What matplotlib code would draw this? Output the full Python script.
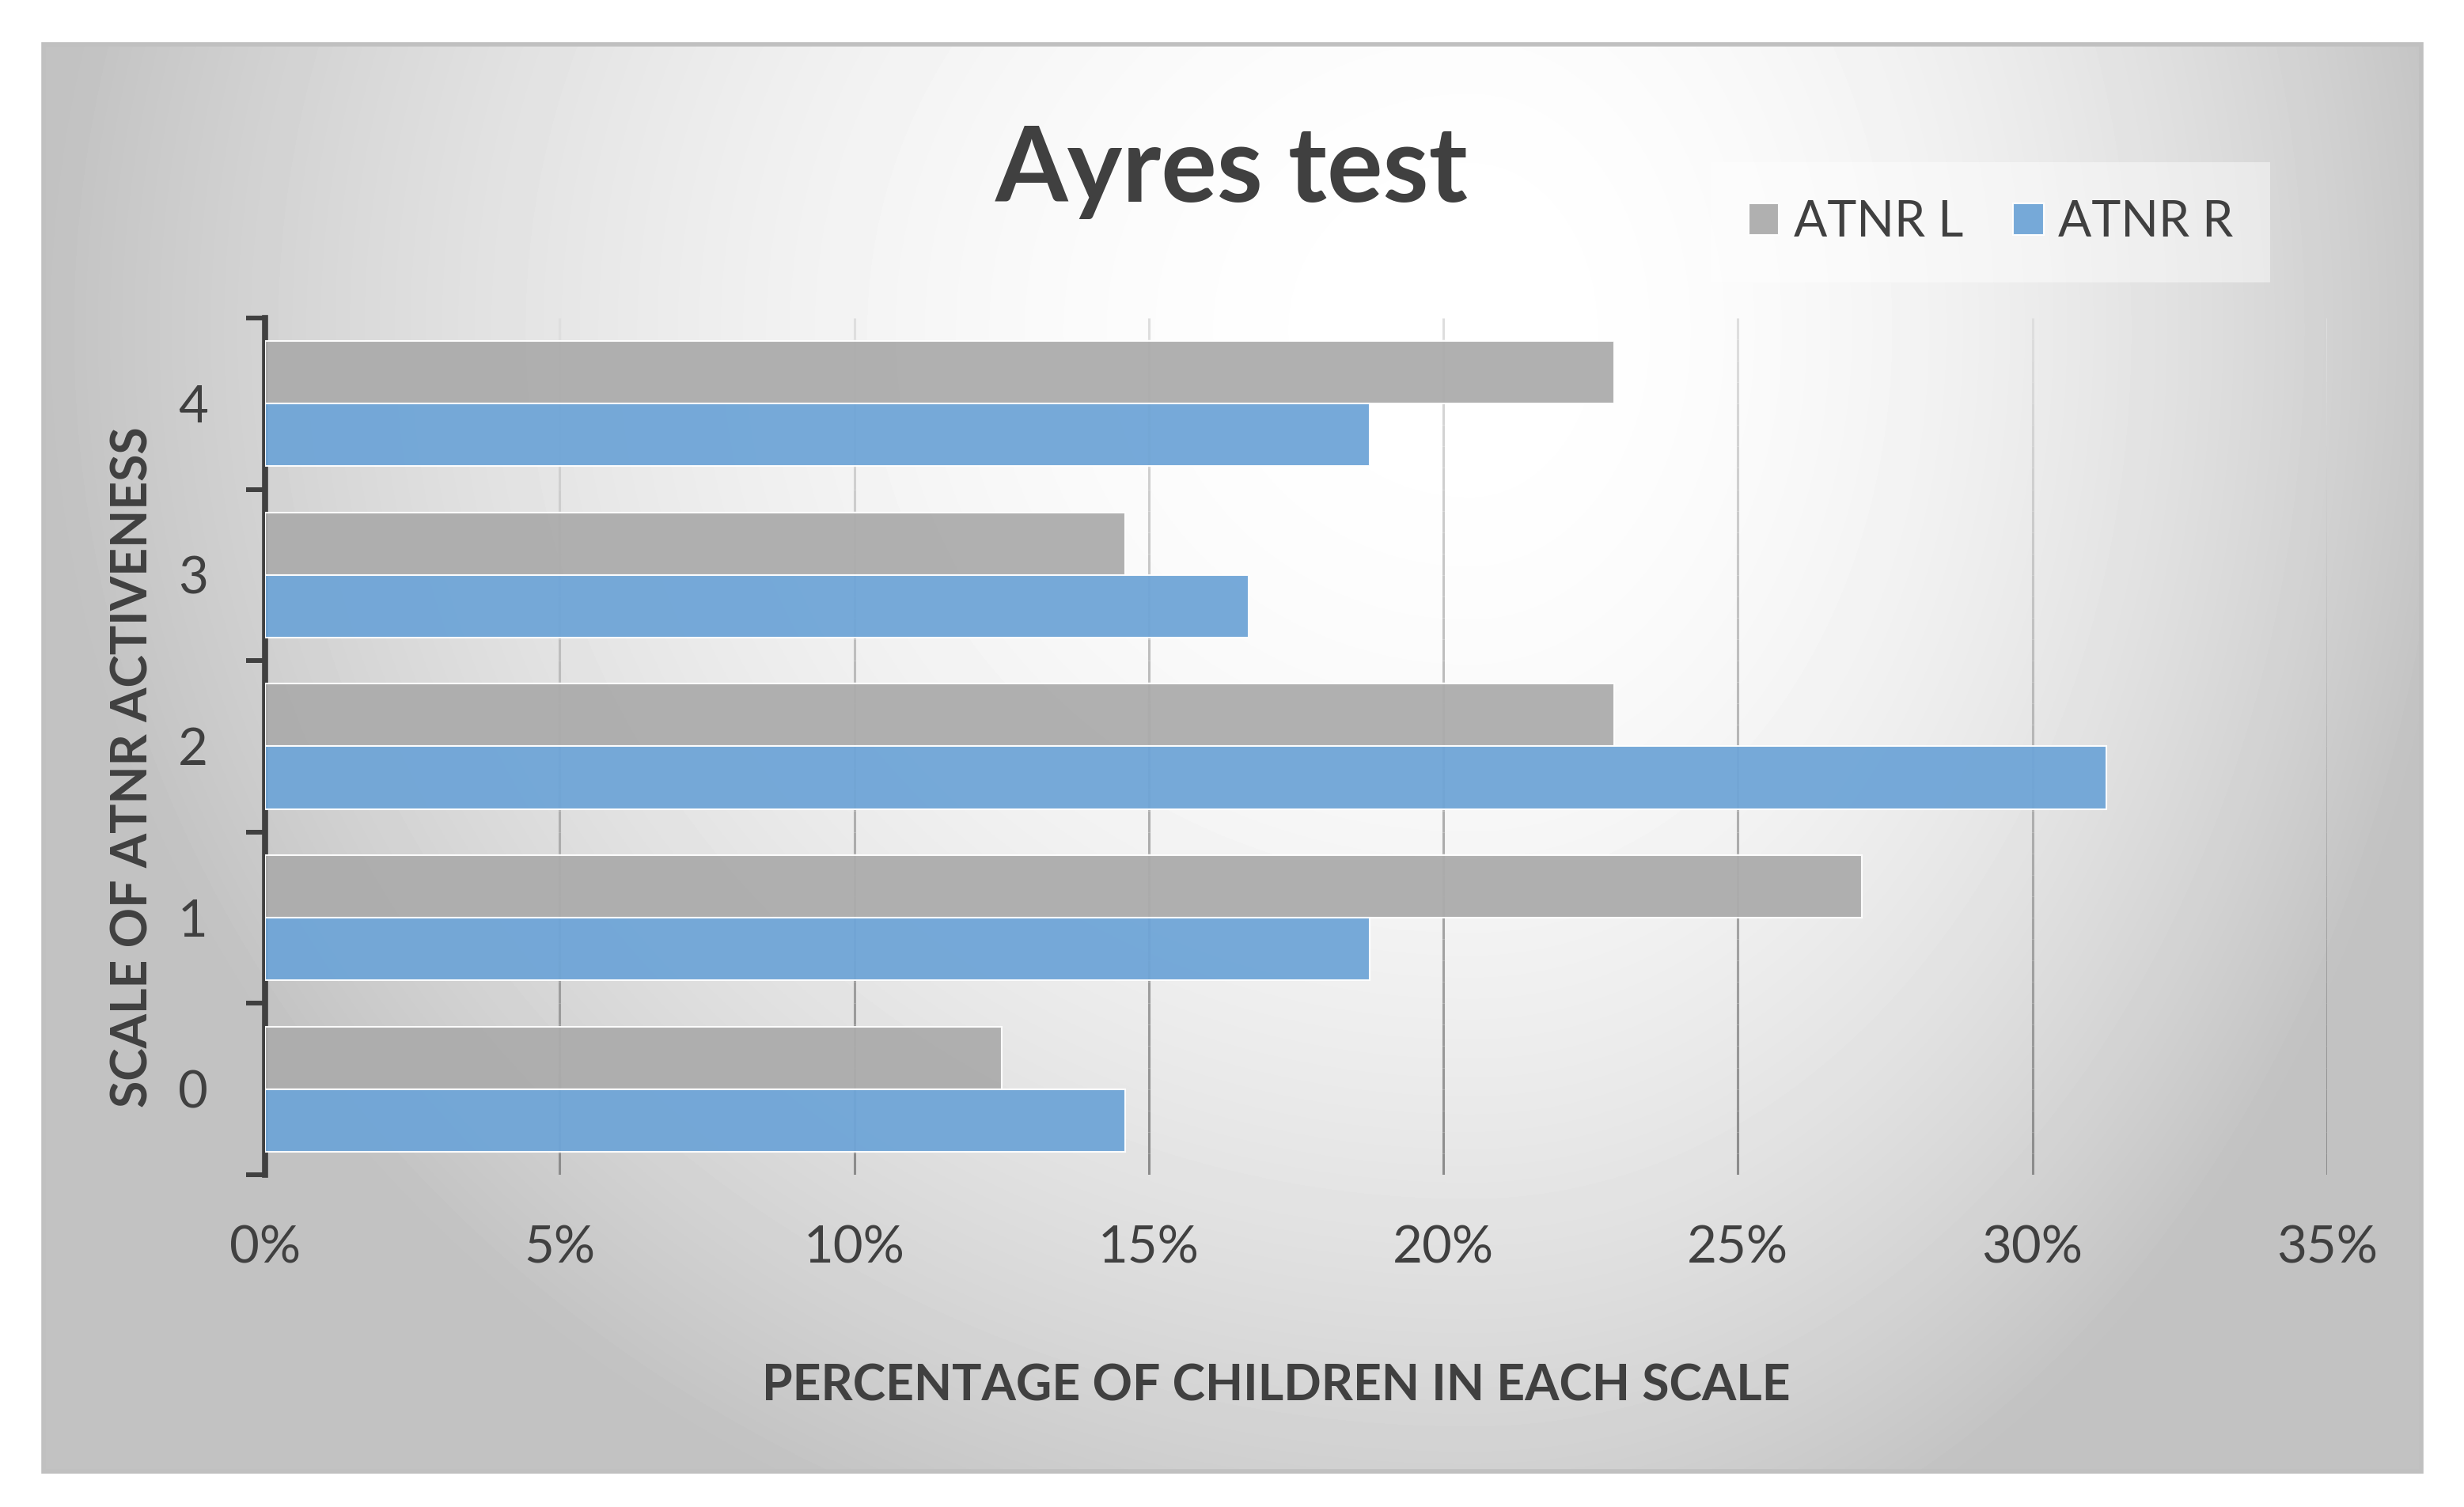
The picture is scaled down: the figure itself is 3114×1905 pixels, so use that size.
import numpy as np
import matplotlib
matplotlib.use("Agg")
import matplotlib.pyplot as plt
from matplotlib.collections import LineCollection
from matplotlib.patches import Rectangle
from matplotlib.ticker import FixedLocator, PercentFormatter

# Data (percentage of children per scale)
scales = [0, 1, 2, 3, 4]
atnr_l = [12.5, 27.1, 22.9, 14.6, 22.9]
atnr_r = [14.6, 18.75, 31.25, 16.7, 18.75]
series_names = ["ATNR L", "ATNR R"]
x_ticks = [0, 5, 10, 15, 20, 25, 30, 35]

TXT = "#404040"
GRAY = "#acacac"
BLUE = "#6fa5d7"
plt.rcParams["font.family"] = ["Lato", "DejaVu Sans"]

fig = plt.figure(figsize=(31.14, 19.05), dpi=100)

# Background panel with radial grey gradient
bg = fig.add_axes([0, 0, 1, 1], zorder=0)
bg.set_xlim(0, 1)
bg.set_ylim(0, 1)
bg.axis("off")
fl, fr, fb, ft = 0.0177, 0.9827, 0.0236, 0.9706
gx, gy = np.meshgrid(np.linspace(0, 1, 600), np.linspace(0, 1, 400))
cx, cy = 0.6, 0.2
dx = np.where(gx < cx, (gx - cx) / 0.6, (gx - cx) / 0.42)
dy = (gy - cy) / 0.92
r = np.clip(np.sqrt(dx ** 2 + dy ** 2), 0, 1.0)
shade = 1 - 0.24 * r ** 2
bg.imshow(shade, cmap="gray", vmin=0, vmax=1, extent=(fl, fr, fb, ft),
          origin="upper", aspect="auto", interpolation="bilinear")
bg.add_patch(Rectangle((fl, fb), fr - fl, ft - fb, fill=False,
                       edgecolor="#c0c0c0", linewidth=4))

# Main axes
ax = fig.add_axes([0.1076, 0.2205, 0.8368, 0.5685], zorder=1)
ax.patch.set_alpha(0)

h = 0.365
y = np.array(scales, dtype=float)
ax.barh(y + h / 2, atnr_l, height=h, color=GRAY, alpha=0.95,
        edgecolor=(1, 1, 1, 0.7), linewidth=1.5, label=series_names[0], zorder=3)
ax.barh(y - h / 2, atnr_r, height=h, color=BLUE, alpha=0.95,
        edgecolor=(1, 1, 1, 0.7), linewidth=1.5, label=series_names[1], zorder=3)

ax.set_xlim(0, 35)
ax.set_ylim(-0.5, 4.5)
ax.xaxis.set_major_locator(FixedLocator(x_ticks))
ax.xaxis.set_major_formatter(PercentFormatter(decimals=0))

# vertical gridlines fading from light (top) to dark (bottom)
n = 40
ys = np.linspace(-0.5, 4.5, n + 1)
for xv in ax.get_xticks()[1:]:
    segs = [[(xv, ys[i]), (xv, ys[i + 1])] for i in range(n)]
    t = np.linspace(0, 1, n)
    cols = [(c, c, c, 1) for c in 0.55 + 0.32 * t]
    ax.add_collection(LineCollection(segs, colors=cols, linewidths=2.2, zorder=2))

for s in ["top", "right", "bottom"]:
    ax.spines[s].set_visible(False)
ax.spines["left"].set_color(TXT)
ax.spines["left"].set_linewidth(5.5)

ax.set_yticks(scales)
ax.set_yticklabels([str(s) for s in scales])
ax.set_yticks(np.arange(-0.5, 5.0, 1.0), minor=True)
ax.tick_params(axis="y", which="major", length=0, pad=52, labelsize=47, labelcolor=TXT)
ax.tick_params(axis="y", which="minor", length=17, width=4.3, color=TXT, direction="out")
ax.tick_params(axis="x", length=0, pad=46, labelsize=47, labelcolor=TXT)

fig.text(0.5, 0.886, "Ayres test", ha="center", va="center",
         fontsize=95, fontweight="bold", color=TXT)
fig.text(0.518, 0.080, "PERCENTAGE OF CHILDREN IN EACH SCALE", ha="center",
         va="center", fontsize=45, fontweight="bold", color=TXT)
fig.text(0.054, 0.491, "SCALE OF ATNR ACTIVENESS", ha="center", va="center",
         rotation=90, fontsize=45, fontweight="bold", color=TXT)

leg = ax.legend(loc="center", bbox_to_anchor=(0.808, 0.8525),
                bbox_transform=fig.transFigure, ncol=2, fontsize=45,
                frameon=True, fancybox=False, facecolor="white", framealpha=0.45,
                edgecolor="none", handlelength=0.62, handleheight=0.62,
                handletextpad=0.3, columnspacing=1.0, borderpad=0.75)
for t in leg.get_texts():
    t.set_color(TXT)

fig.savefig("out.png", dpi=100)
